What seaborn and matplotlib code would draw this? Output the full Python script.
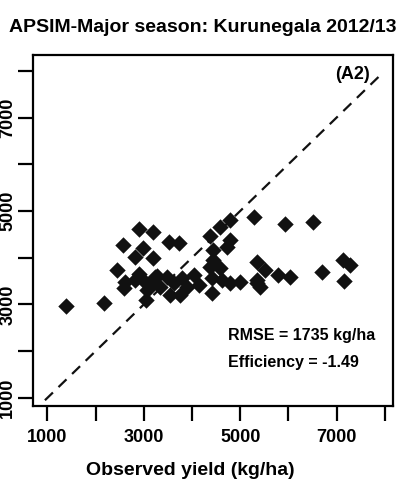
import pandas as pd
import seaborn as sns
import matplotlib.pyplot as plt

# observed vs simulated grain yield (kg/ha)
observed = [1393, 2172, 2896, 3186, 2559, 2828, 2993, 3200, 2435, 2621,
            2828, 2586, 3035, 3070, 3049, 3242, 5277, 4794, 3517, 3724,
            4587, 4380, 4794, 4442, 4732, 4442, 5933, 6519, 5347, 5519,
            5794, 6036, 5347, 5416, 6693, 7140, 7278, 7160,
            3277, 3345, 3484, 3621, 3552, 3795, 3898, 3759, 4035, 4138,
            4380, 4416, 4416, 4623, 4587, 4794, 5001, 5347, 2900, 3150]
simulated = [2970, 3028, 4612, 4560, 4276, 4019, 4212, 3997, 3740, 3490,
             3526, 3355, 3490, 3312, 3098, 3597, 4882, 4811, 4346, 4312,
             4661, 4468, 4383, 4169, 4233, 3955, 4725, 4775, 3918, 3740,
             3633, 3584, 3526, 3383, 3704, 3955, 3848, 3511,
             3612, 3383, 3597, 3456, 3205, 3569, 3383, 3205, 3634, 3419,
             3811, 3563, 3242, 3526, 3783, 3456, 3490, 3456, 3650, 3420]

one_to_one = [950, 7900]
tick_values = [1000, 2000, 3000, 4000, 5000, 6000, 7000, 8000]
tick_labels = ['1000', '', '3000', '', '5000', '', '7000', '']

title = 'APSIM-Major season: Kurunegala 2012/13'
panel = '(A2)'
rmse_text = 'RMSE = 1735 kg/ha'
eff_text = 'Efficiency = -1.49'

df = pd.DataFrame({'observed': observed, 'simulated': simulated})

sns.set_style('ticks')
plt.rcParams['font.family'] = ['Liberation Sans', 'DejaVu Sans']
plt.rcParams['font.weight'] = 'bold'
plt.rcParams['text.color'] = 'black'
plt.rcParams['xtick.color'] = 'black'
plt.rcParams['ytick.color'] = 'black'
plt.rcParams['axes.labelcolor'] = 'black'
plt.rcParams['axes.edgecolor'] = 'black'

fig = plt.figure(figsize=(4.06, 4.82), dpi=100)
ax = fig.add_axes([0.081, 0.158, 0.887, 0.728])

sns.scatterplot(data=df, x='observed', y='simulated', marker='D', s=70,
                color='#111111', edgecolor='#111111', linewidth=0, ax=ax)
ax.plot(one_to_one, one_to_one, color='#111111', lw=1.6,
        dashes=(5, 3.5))

ax.set_xlim(700, 8170)
ax.set_ylim(830, 8340)
ax.set_xticks(tick_values)
ax.set_xticklabels(tick_labels, fontsize=13, fontweight='bold')
ax.set_yticks(tick_values)
ax.set_yticklabels(tick_labels, fontsize=13, fontweight='bold',
                   rotation=90, va='center')
ax.tick_params(axis='x', length=11, width=1.6, pad=6, direction='out')
ax.tick_params(axis='y', length=11, width=1.6, pad=1, direction='out')
for sp in ax.spines.values():
    sp.set_visible(True)
    sp.set_linewidth(1.6)

ax.set_xlabel('Observed yield (kg/ha)', fontsize=14, fontweight='bold')
ax.xaxis.set_label_coords(0.436, -0.16)
ax.set_ylabel('')

ax.text(7700, 7915, panel, fontsize=13, fontweight='bold',
        ha='right', va='center')
ax.text(4757, 2327, rmse_text, fontsize=11.5, fontweight='bold', va='center')
ax.text(4757, 1749, eff_text, fontsize=11.5, fontweight='bold', va='center')

fig.text(0.5, 0.942, title, fontsize=14, fontweight='bold',
         ha='center', va='center')

fig.savefig('out.png', dpi=100)
